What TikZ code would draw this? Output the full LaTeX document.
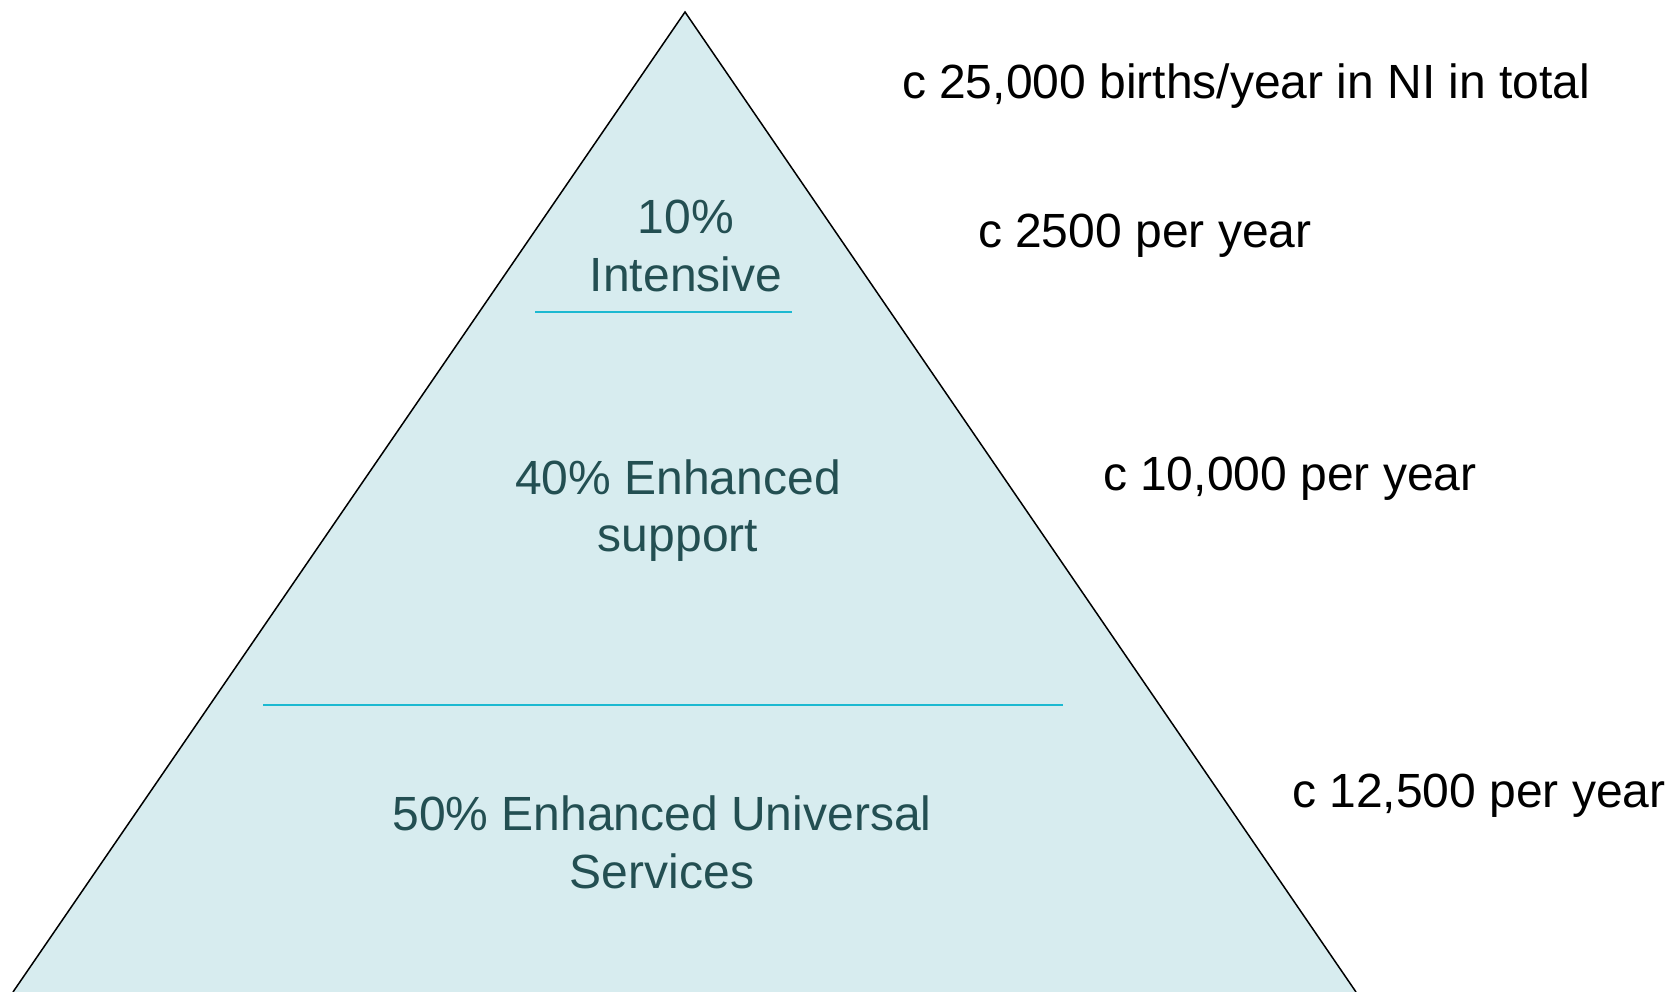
\documentclass[tikz,border=0pt]{standalone}
\usepackage{fontspec}
\setmainfont{Liberation Sans}
\definecolor{fillblue}{HTML}{D7ECEF}
\definecolor{tealtext}{HTML}{234F52}
\definecolor{cyanline}{HTML}{1CB9D1}
\begin{document}
\begin{tikzpicture}[x=1pt,y=-1pt, inner sep=0pt, outer sep=0pt,
  tri/.style={font=\fontsize{48}{57}\selectfont, text=tealtext, anchor=base},
  side/.style={font=\fontsize{48}{57}\selectfont, text=black, anchor=base west},
  divider/.style={draw=cyanline, line width=2.5pt},
  edge/.style={draw=black, line width=1.5pt, line join=miter}]
\useasboundingbox (0,0) rectangle (1667,992);
\coordinate (apex) at (685,12);
\coordinate (bl) at (13,992);
\coordinate (br) at (1356,992);
\fill[fillblue] (apex) -- (bl) -- (br) -- cycle;
\draw[edge] (bl) -- (apex) -- (br);
\coordinate (d1a) at (535,312);
\coordinate (d1b) at (792,312);
\coordinate (d2a) at (263,705);
\coordinate (d2b) at (1063,705);
\draw[divider] (d1a) -- (d1b);
\draw[divider] (d2a) -- (d2b);
\node[tri] (t10) at (686,234) {10\%};
\node[tri] (tint) at (686,291) {Intensive};
\node[tri] (t40) at (678,494) {40\% Enhanced};
\node[tri] (tsup) at (678,551) {support};
\node[tri] (t50) at (662,830) {50\% Enhanced Universal};
\node[tri] (tserv) at (662,888) {Services};
\node[side] (s1) at (902,99) {c 25,000 births/year in NI in total};
\node[side] (s2) at (978,248) {c 2500 per year};
\node[side] (s3) at (1103,490) {c 10,000 per year};
\node[side] (s4) at (1292,807) {c 12,500 per year};
\end{tikzpicture}
\end{document}
